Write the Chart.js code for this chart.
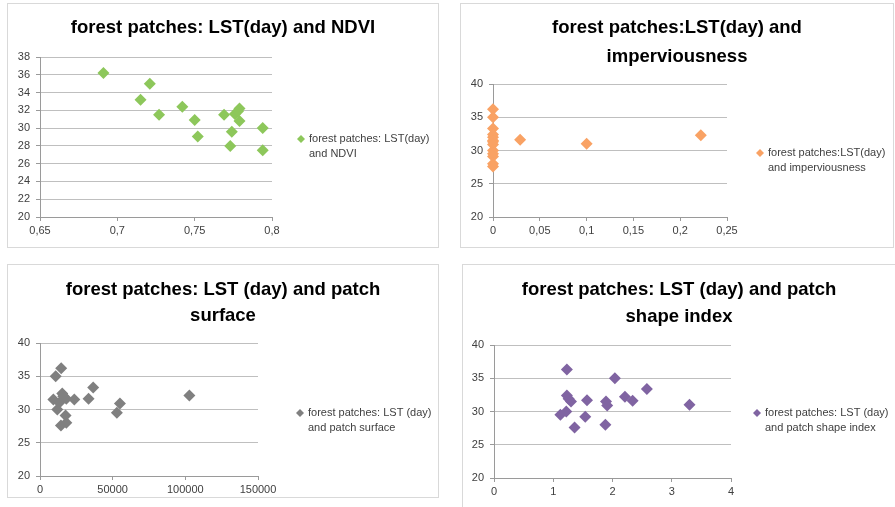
<!DOCTYPE html>
<html>
<head>
<meta charset="utf-8">
<script src="https://cdn.jsdelivr.net/npm/chart.js@4"></script>
<style>
  body { margin: 0; background: #fff; width: 895px; height: 507px; overflow: hidden; position: relative; }
  .box { position: absolute; border: 1px solid #d9d9d9; box-sizing: border-box; background: #fff; }
  .box canvas { display: block; }
</style>
</head>
<body>
<div class="box" style="left:7px;top:3px;width:432px;height:245px"><canvas id="c1" width="430" height="243"></canvas></div>
<div class="box" style="left:460px;top:3px;width:434px;height:245px"><canvas id="c2" width="432" height="243"></canvas></div>
<div class="box" style="left:7px;top:264px;width:432px;height:234px"><canvas id="c3" width="430" height="232"></canvas></div>
<div class="box" style="left:462px;top:264px;width:434px;height:260px"><canvas id="c4" width="432" height="258"></canvas></div>
<script>
// LST (day) vs NDVI
const ndviX = [0.691, 0.721, 0.715, 0.727, 0.742, 0.750, 0.752, 0.769, 0.776, 0.778, 0.779, 0.779, 0.774, 0.773, 0.794, 0.794];
const ndviY = [36.2, 35.0, 33.2, 31.5, 32.4, 30.9, 29.05, 31.5, 31.6, 31.9, 32.2, 30.8, 29.6, 28.0, 30.0, 27.5];

// LST (day) vs imperviousness
const impX = [0, 0, 0, 0, 0, 0, 0, 0, 0, 0, 0, 0, 0, 0.029, 0.1, 0.222];
const impY = [36.2, 35.0, 33.3, 32.4, 32.0, 31.5, 31.3, 30.9, 30.0, 29.5, 29.1, 28.0, 27.6, 31.6, 31.0, 32.3];

// LST (day) vs patch surface
const surfX = [10800, 14600, 9200, 11900, 13300, 15300, 16000, 18100, 23600, 17600, 14400, 18100, 33400, 36600, 52900, 55000, 102800];
const surfY = [35.0, 36.2, 31.5, 30.0, 31.0, 32.4, 32.0, 31.6, 31.5, 29.1, 27.6, 28.0, 31.6, 33.3, 29.5, 30.9, 32.1];

// LST (day) vs patch shape index
const shapeX = [1.12, 1.22, 1.23, 1.23, 1.26, 1.30, 1.36, 1.54, 1.57, 1.88, 1.89, 1.91, 2.04, 2.21, 2.34, 2.58, 3.30];
const shapeY = [29.5, 30.0, 36.3, 32.4, 31.9, 31.5, 27.6, 29.2, 31.7, 28.0, 31.5, 30.9, 35.0, 32.2, 31.6, 33.4, 31.0];

const GRID = "#bfbfbf";
const AXIS = "#9a9a9a";
const TEXT = "#404040";

// draws the two-line legend on the right of the plot
const sideLegend = {
  id: "sideLegend",
  afterDraw(chart, args, opts) {
    const ctx = chart.ctx;
    ctx.save();
    ctx.fillStyle = opts.color;
    ctx.beginPath();
    const r = 4;
    ctx.moveTo(opts.x, opts.y - r);
    ctx.lineTo(opts.x + r, opts.y);
    ctx.lineTo(opts.x, opts.y + r);
    ctx.lineTo(opts.x - r, opts.y);
    ctx.closePath();
    ctx.fill();
    ctx.fillStyle = TEXT;
    ctx.font = "11px 'Liberation Sans', sans-serif";
    ctx.textBaseline = "middle";
    ctx.textAlign = "left";
    opts.lines.forEach((t, i) => ctx.fillText(t, opts.x + 8, opts.y + i * 15));
    ctx.restore();
  },
};

function fmt(v) {
  return String(+Number(v).toFixed(3)).replace(".", ",");
}

function makePanel(id, cfg) {
  const pts = cfg.xs.map((x, i) => ({ x: x, y: cfg.ys[i] }));
  const lh = cfg.lineH;
  const padTop = cfg.titleY - lh / 2;
  const padBottom = cfg.plotTop - padTop - lh * cfg.title.length;
  new Chart(document.getElementById(id).getContext("2d"), {
    type: "scatter",
    data: {
      datasets: [
        {
          data: pts,
          pointStyle: "rectRot",
          pointRadius: 6,
          pointHoverRadius: 6,
          backgroundColor: cfg.color,
          borderColor: cfg.color,
          borderWidth: 0,
          clip: false,
        },
      ],
    },
    options: {
      responsive: false,
      animation: false,
      layout: { padding: 0 },
      plugins: {
        legend: { display: false },
        tooltip: { enabled: false },
        title: {
          display: true,
          text: cfg.title,
          color: "#000",
          font: { family: "'Liberation Sans', sans-serif", size: 18.5, weight: "bold", lineHeight: lh / 18.5 },
          padding: { top: padTop, bottom: padBottom },
        },
        sideLegend: { x: cfg.legX, y: cfg.legY, lines: cfg.legend, color: cfg.color },
      },
      scales: {
        x: {
          type: "linear",
          min: cfg.xMin,
          max: cfg.xMax,
          afterFit: (s) => { s.height = cfg.xAxisH; },
          grid: { drawOnChartArea: false, drawTicks: true, tickLength: 4, color: AXIS },
          border: { color: AXIS },
          ticks: {
            stepSize: cfg.xStep,
            color: TEXT,
            padding: 3,
            maxRotation: 0,
            font: { family: "'Liberation Sans', sans-serif", size: 11 },
            callback: (v) => fmt(v),
          },
        },
        y: {
          type: "linear",
          min: cfg.yMin,
          max: cfg.yMax,
          afterFit: (s) => { s.width = cfg.yAxisW; },
          grid: { color: GRID, tickLength: 4, tickColor: AXIS },
          border: { color: AXIS },
          ticks: {
            stepSize: cfg.yStep,
            color: TEXT,
            padding: 6,
            font: { family: "'Liberation Sans', sans-serif", size: 11 },
          },
        },
        gap: {
          type: "linear",
          position: "right",
          display: true,
          afterFit: (s) => { s.width = cfg.rightGap; },
          grid: { display: false },
          border: { display: false },
          ticks: { display: false },
        },
      },
    },
    plugins: [sideLegend],
  });
}

makePanel("c1", {
  xs: ndviX, ys: ndviY, color: "#8dc75b",
  title: ["forest patches: LST(day) and NDVI"], titleY: 24, lineH: 28, plotTop: 53,
  xMin: 0.65, xMax: 0.8, xStep: 0.05, yMin: 20, yMax: 38, yStep: 2,
  xAxisH: 30, yAxisW: 32, rightGap: 166,
  legend: ["forest patches: LST(day)", "and NDVI"], legX: 293, legY: 135,
});

makePanel("c2", {
  xs: impX, ys: impY, color: "#f9a264",
  title: ["forest patches:LST(day) and", "imperviousness"], titleY: 24, lineH: 28.5, plotTop: 80,
  xMin: 0, xMax: 0.25, xStep: 0.05, yMin: 20, yMax: 40, yStep: 5,
  xAxisH: 30, yAxisW: 32, rightGap: 166,
  legend: ["forest patches:LST(day)", "and imperviousness"], legX: 299, legY: 149,
});

makePanel("c3", {
  xs: surfX, ys: surfY, color: "#808080",
  title: ["forest patches: LST (day) and patch", "surface"], titleY: 25, lineH: 25.5, plotTop: 78,
  xMin: 0, xMax: 150000, xStep: 50000, yMin: 20, yMax: 40, yStep: 5,
  xAxisH: 21, yAxisW: 32, rightGap: 180,
  legend: ["forest patches: LST (day)", "and patch surface"], legX: 292, legY: 148,
});

makePanel("c4", {
  xs: shapeX, ys: shapeY, color: "#8064a2",
  title: ["forest patches: LST (day) and patch", "shape index"], titleY: 25, lineH: 26.5, plotTop: 80,
  xMin: 0, xMax: 4, xStep: 1, yMin: 20, yMax: 40, yStep: 5,
  xAxisH: 45, yAxisW: 31, rightGap: 164,
  legend: ["forest patches: LST (day)", "and patch shape index"], legX: 294, legY: 148,
});
</script>
</body>
</html>
